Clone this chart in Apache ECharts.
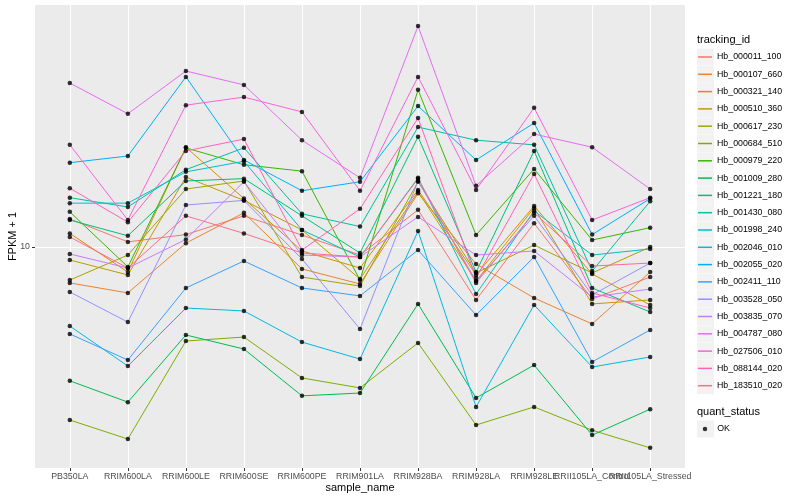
<!DOCTYPE html>
<html><head><meta charset="utf-8">
<script src="https://cdn.jsdelivr.net/npm/echarts@6/dist/echarts.min.js"></script>
<style>html,body{margin:0;padding:0;background:#fff}#c{width:800px;height:500px}</style>
</head><body><div id="c"></div>
<script>
const categories = ['PB350LA','RRIM600LA','RRIM600LE','RRIM600SE','RRIM600PE','RRIM901LA','RRIM928BA','RRIM928LA','RRIM928LE','RRII105LA_Control','RRII105LA_Stressed'];
const yTicks = [10];

const Hb_000011_100 = [12.4, 10.4, 11.0, 12.7, 10.96, 9.40, 13.3, 6.66, 12.0, 6.71, 7.94];
const Hb_000107_660 = [7.59, 7.03, 10.3, 13.0, 8.45, 7.53, 15.1, 8.78, 6.76, 5.54, 8.25];
const Hb_000321_140 = [11.1, 8.25, 21.5, 14.5, 9.70, 8.51, 15.5, 8.07, 13.7, 8.13, 6.41];
const Hb_000510_360 = [9.05, 8.07, 17.1, 14.3, 11.4, 7.82, 15.3, 7.70, 13.5, 6.46, 6.66];
const Hb_000617_230 = [7.76, 9.40, 15.6, 16.6, 7.94, 7.41, 16.5, 8.19, 10.15, 8.19, 10.0];
const Hb_000684_510 = [2.65, 2.29, 4.86, 5.01, 3.66, 3.39, 4.79, 2.55, 2.93, 2.45, 2.14];
const Hb_000979_220 = [13.1, 8.58, 21.4, 18.8, 17.9, 7.76, 33.4, 10.96, 18.2, 10.55, 11.6];
const Hb_001009_280 = [3.58, 3.04, 5.09, 4.57, 3.19, 3.26, 6.46, 3.14, 4.04, 2.36, 2.88];
const Hb_001221_180 = [12.3, 10.9, 16.6, 16.9, 12.7, 9.55, 23.3, 8.25, 20.9, 7.30, 6.07];
const Hb_001430_080 = [14.6, 13.6, 18.1, 21.4, 12.9, 11.7, 25.1, 22.7, 21.9, 8.32, 14.2];
const Hb_001998_240 = [14.0, 14.0, 17.8, 19.3, 11.4, 9.26, 17.0, 6.97, 13.2, 9.40, 9.85];
const Hb_002046_010 = [5.45, 4.01, 6.26, 6.12, 4.82, 4.23, 11.3, 2.93, 6.41, 3.98, 4.30];
const Hb_002055_020 = [19.1, 20.1, 36.9, 19.5, 15.4, 16.5, 29.5, 19.5, 25.9, 11.0, 14.5];
const Hb_002411_110 = [5.13, 4.20, 7.30, 8.98, 7.30, 6.87, 9.77, 5.93, 9.26, 4.14, 5.29];
const Hb_003528_050 = [7.08, 5.62, 13.8, 14.3, 9.12, 5.33, 16.6, 7.70, 12.7, 6.92, 8.84];
const Hb_003835_070 = [9.48, 8.51, 10.6, 16.5, 9.40, 9.26, 12.6, 9.40, 9.70, 6.81, 7.24];
const Hb_004787_080 = [35.2, 27.8, 38.6, 34.7, 22.7, 17.0, 54.5, 16.0, 23.8, 21.5, 15.6];
const Hb_027506_010 = [21.9, 12.3, 29.7, 31.6, 28.2, 15.4, 36.9, 15.5, 29.1, 12.3, 14.6];
const Hb_088144_020 = [15.7, 12.1, 20.9, 22.9, 9.77, 13.4, 26.9, 7.88, 17.5, 7.03, 6.26];
const Hb_183510_020 = [10.8, 8.51, 12.7, 11.1, 9.55, 9.26, 16.9, 7.59, 13.0, 8.64, 8.84];

const trackingIds = ['Hb_000011_100','Hb_000107_660','Hb_000321_140','Hb_000510_360','Hb_000617_230','Hb_000684_510','Hb_000979_220','Hb_001009_280','Hb_001221_180','Hb_001430_080','Hb_001998_240','Hb_002046_010','Hb_002055_020','Hb_002411_110','Hb_003528_050','Hb_003835_070','Hb_004787_080','Hb_027506_010','Hb_088144_020','Hb_183510_020'];
const seriesValues = [Hb_000011_100,Hb_000107_660,Hb_000321_140,Hb_000510_360,Hb_000617_230,Hb_000684_510,Hb_000979_220,Hb_001009_280,Hb_001221_180,Hb_001430_080,Hb_001998_240,Hb_002046_010,Hb_002055_020,Hb_002411_110,Hb_003528_050,Hb_003835_070,Hb_004787_080,Hb_027506_010,Hb_088144_020,Hb_183510_020];
const statusLevels = ['OK'];

const palette = ['#F8766D','#EA8331','#D89000','#C09B00','#A3A500','#7CAE00','#39B600','#00BB4E','#00BF7D','#00C1A3','#00BFC4','#00BAE0','#00B0F6','#35A2FF','#9590FF','#C77CFF','#E76BF3','#FA62DB','#FF62BC','#FF6C91'];
const FONT = 'Liberation Sans, Arial, Helvetica, sans-serif';

const xPos = categories.map((c, i) => i + 1);
// labels split over two axes so ECharts keeps the overlapping ones (like ggplot does)
const oddPos = xPos.filter((p, i) => i % 2 === 0);
const evenPos = xPos.filter((p, i) => i % 2 === 1);

const lineSeries = trackingIds.map((id, k) => ({
  type: 'line', name: id, xAxisIndex: 0,
  data: seriesValues[k].map((v, i) => [xPos[i], v]),
  showSymbol: false, symbol: 'none', silent: true,
  lineStyle: { color: palette[k], width: 1 },
  itemStyle: { color: palette[k] },
  emphasis: { disabled: true },
  z: 2
}));
const pointData = [];
seriesValues.forEach(arr => arr.forEach((v, i) => pointData.push([xPos[i], v])));
const pointSeries = {
  type: 'scatter', name: statusLevels[0], data: pointData, xAxisIndex: 0,
  symbol: 'circle', symbolSize: 4.5, silent: true,
  itemStyle: { color: '#000' }, z: 5, emphasis: { disabled: true }
};

const keyBoxes = trackingIds.map((id, i) => ({
  type: 'rect', shape: { x: 697, y: 48.5 + i * 17.3, width: 17, height: 17 },
  style: { fill: '#F2F2F2' }, z: 0, silent: true
}));
keyBoxes.push({ type: 'rect', shape: { x: 697, y: 420.5, width: 17, height: 17 }, style: { fill: '#F2F2F2' }, z: 0, silent: true });

const labelStyle = { formatter: v => categories[Math.round(v) - 1] || '', fontSize: 8.8, color: '#4D4D4D', margin: 4, fontFamily: FONT, hideOverlap: false, showMinLabel: true, showMaxLabel: true };

const chart = echarts.init(document.getElementById('c'), null, { renderer: 'canvas' });
chart.setOption({
  animation: false,
  backgroundColor: '#fff',
  textStyle: { fontFamily: FONT },
  title: [
    { text: 'tracking_id', left: 697, top: 34, padding: 0, textStyle: { fontSize: 11, fontWeight: 'normal', color: '#000', fontFamily: FONT } },
    { text: 'quant_status', left: 697, top: 406.5, padding: 0, textStyle: { fontSize: 11, fontWeight: 'normal', color: '#000', fontFamily: FONT } }
  ],
  grid: { left: 35, right: 115, top: 5, bottom: 32, show: true, backgroundColor: '#EBEBEB', borderWidth: 0, containLabel: false, outerBoundsMode: 'none' },
  xAxis: [
    {
      type: 'value', min: 0.4, max: 11.6, position: 'bottom',
      axisLine: { show: false },
      axisTick: { show: true, length: 3, customValues: xPos, lineStyle: { color: '#333' } },
      axisLabel: Object.assign({ customValues: oddPos }, labelStyle),
      splitLine: { show: true, lineStyle: { color: '#fff', width: 1.1 } },
      name: 'sample_name', nameLocation: 'middle', nameGap: 14, nameMoveOverlap: false,
      nameTextStyle: { fontSize: 11, color: '#000', fontFamily: FONT }
    },
    {
      type: 'value', min: 0.4, max: 11.6, position: 'bottom', offset: 0,
      axisLine: { show: false },
      axisTick: { show: false, customValues: evenPos },
      axisLabel: Object.assign({ customValues: evenPos }, labelStyle),
      splitLine: { show: false }
    }
  ],
  yAxis: {
    type: 'log', logBase: 10, min: 1.8336, max: 64.07,
    axisLine: { show: false },
    axisTick: { show: true, length: 3, customValues: yTicks, lineStyle: { color: '#333' } },
    axisLabel: { customValues: yTicks, fontSize: 8.8, color: '#4D4D4D', margin: 5, fontFamily: FONT, showMinLabel: false, showMaxLabel: false },
    splitLine: { show: true, lineStyle: { color: '#fff', width: 1.1 } },
    name: 'FPKM + 1', nameLocation: 'middle', nameGap: 16.5, nameMoveOverlap: false,
    nameTextStyle: { fontSize: 11, color: '#000', fontFamily: FONT }
  },
  legend: [
    { data: trackingIds, orient: 'vertical', left: 698, top: 48.5, padding: 0,
      itemWidth: 14, itemHeight: 1.5, itemGap: 0.3, icon: 'rect', selectedMode: false,
      textStyle: { fontSize: 8.8, lineHeight: 17, color: '#000', fontFamily: FONT } },
    { data: statusLevels, orient: 'vertical', left: 702.75, top: 420.5, padding: 0,
      itemWidth: 4.5, itemHeight: 4.5, icon: 'circle', selectedMode: false,
      textStyle: { fontSize: 8.8, lineHeight: 17, color: '#000', fontFamily: FONT, padding: [0, 0, 0, 5] } }
  ],
  graphic: keyBoxes,
  series: [...lineSeries, pointSeries]
});
</script></body></html>
